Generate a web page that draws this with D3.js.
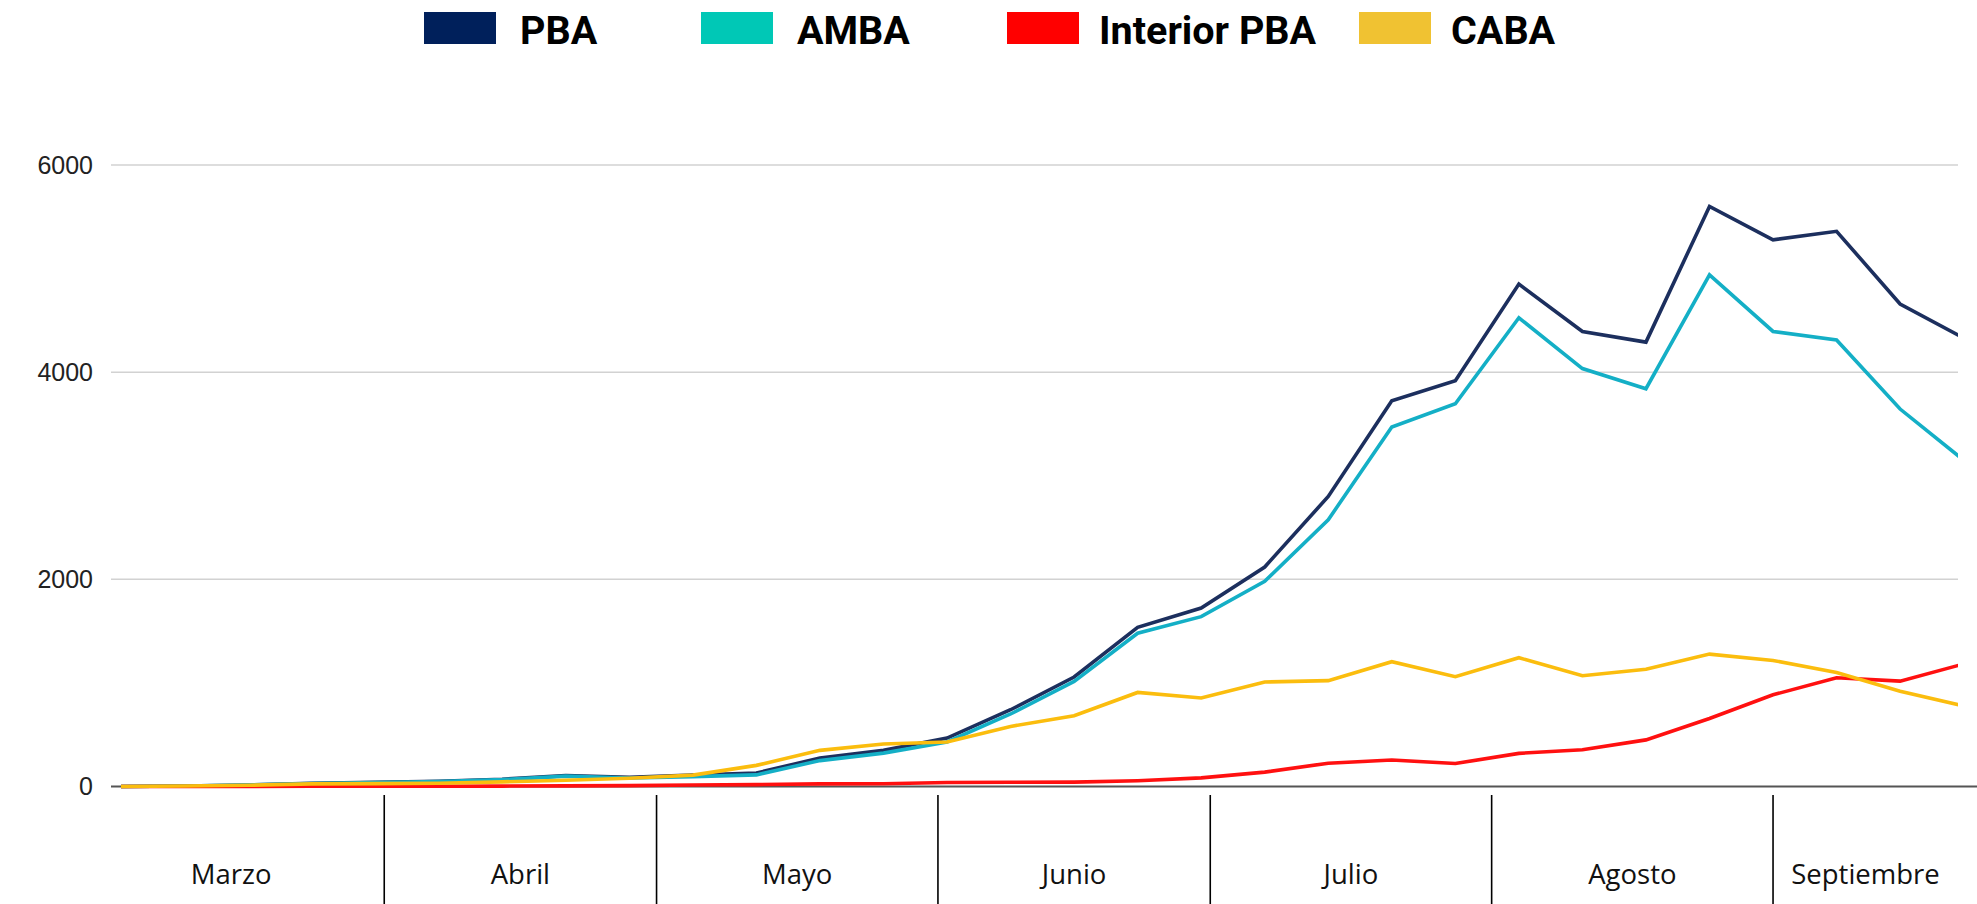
<!DOCTYPE html>
<html>
<head>
<meta charset="utf-8">
<script src="https://cdnjs.cloudflare.com/ajax/libs/d3/7.8.5/d3.min.js"></script>
<style>
    body { margin: 0; background: #fff; }
    svg { display: block; }
</style>
</head>
<body>
<script>
var width = 1977,
    height = 904;

// weekly points, first one on 3 March 2020
var firstWeek = new Date(2020, 2, 3);
var weeks = d3.range(30).map(function(i) { return d3.timeDay.offset(firstWeek, i * 7); });

var pbaValues      = [0, 5, 15, 30, 40, 50, 70, 105, 90, 110, 130, 275, 349, 468, 741, 1057, 1536, 1723, 2119, 2800, 3724, 3917, 4850, 4393, 4290, 5600, 5278, 5360, 4658, 4330];
var ambaValues     = [0, 5, 14, 28, 38, 47, 66, 100, 82, 95, 112, 250, 322, 430, 700, 1015, 1480, 1640, 1980, 2575, 3470, 3695, 4525, 4035, 3840, 4940, 4393, 4310, 3644, 3150];
var interiorValues = [0, 0, 1, 2, 2, 3, 4, 6, 8, 15, 18, 25, 27, 38, 41, 42, 56, 83, 139, 225, 256, 222, 320, 355, 450, 657, 885, 1050, 1017, 1183];
var cabaValues     = [0, 5, 12, 25, 28, 32, 45, 60, 80, 110, 204, 349, 410, 430, 580, 683, 908, 854, 1009, 1022, 1205, 1060, 1243, 1070, 1132, 1278, 1217, 1100, 920, 778];

var seriesNames  = ["PBA", "AMBA", "Interior PBA", "CABA"];
var lineColors   = ["#1c2f5e", "#14afc6", "#ff1010", "#fbbd0e"];
var legendColors = ["#00205b", "#00c8b6", "#ff0000", "#f0c232"];

var yTicks = [0, 2000, 4000, 6000];
var monthNames = ["Marzo", "Abril", "Mayo", "Junio", "Julio", "Agosto", "Septiembre"];

// layout
var plotLeft = 111,
    plotRight = 1958,
    monthLabelLeft = 78;
var legendSlots = [424, 701, 1007, 1359];

var xRange = d3.scaleTime()
    .domain([weeks[0], weeks[weeks.length - 1]])
    .range([121, 121 + 29 * 63.54]);

var yRange = d3.scaleLinear()
    .domain([0, 6000])
    .range([786.5, 165]);

var svg = d3.select("body").append("svg")
    .attr("width", width)
    .attr("height", height);

svg.append("defs").append("clipPath")
    .attr("id", "plot-clip")
    .append("rect")
    .attr("x", plotLeft)
    .attr("y", 0)
    .attr("width", plotRight - plotLeft)
    .attr("height", height);

// legend
var gLegend = svg.append("g");
seriesNames.forEach(function(name, i) {
    var x0 = legendSlots[i];
    gLegend.append("rect")
        .attr("x", x0)
        .attr("y", 12)
        .attr("width", 72)
        .attr("height", 32)
        .attr("fill", legendColors[i]);
    gLegend.append("text")
        .attr("x", x0 + (i < 2 ? 96 : 92))
        .attr("y", 44)
        .attr("font-family", "Roboto, sans-serif")
        .attr("font-weight", "bold")
        .attr("font-size", 39.5)
        .attr("fill", "#000")
        .text(name);
});
// end legend

// grid + y labels
var gGrid = svg.append("g");
gGrid.selectAll("line")
    .data(yTicks.filter(function(d) { return d > 0; }))
    .enter().append("line")
    .attr("x1", plotLeft)
    .attr("x2", plotRight)
    .attr("y1", function(d) { return yRange(d); })
    .attr("y2", function(d) { return yRange(d); })
    .attr("stroke", "#d2d2d2")
    .attr("stroke-width", 1.5);

gGrid.selectAll("text")
    .data(yTicks)
    .enter().append("text")
    .attr("x", 93)
    .attr("y", function(d) { return yRange(d); })
    .attr("dy", "0.35em")
    .attr("text-anchor", "end")
    .attr("font-family", "'Liberation Sans', Arial, sans-serif")
    .attr("font-size", 25)
    .attr("fill", "#222")
    .text(function(d) { return d; });

svg.append("line")
    .attr("x1", plotLeft)
    .attr("x2", width)
    .attr("y1", yRange(0))
    .attr("y2", yRange(0))
    .attr("stroke", "#555")
    .attr("stroke-width", 2);
// end grid

// lines
var line = d3.line()
    .x(function(d, i) { return xRange(weeks[i]); })
    .y(function(d) { return yRange(d); });

var gLines = svg.append("g").attr("clip-path", "url(#plot-clip)");
[pbaValues, ambaValues, interiorValues, cabaValues].forEach(function(values, i) {
    gLines.append("path")
        .datum(values)
        .attr("d", line)
        .attr("fill", "none")
        .attr("stroke", lineColors[i])
        .attr("stroke-width", 3.6)
        .attr("stroke-linejoin", "miter");
});
// end lines

// month axis
var monthStarts = d3.timeMonth.range(new Date(2020, 2, 1), new Date(2020, 9, 1));
var gMonths = svg.append("g");

gMonths.selectAll("line")
    .data(monthStarts.slice(1))
    .enter().append("line")
    .attr("x1", function(d) { return xRange(d); })
    .attr("x2", function(d) { return xRange(d); })
    .attr("y1", 795)
    .attr("y2", height)
    .attr("stroke", "#000")
    .attr("stroke-width", 1.6);

gMonths.selectAll("text")
    .data(monthStarts)
    .enter().append("text")
    .attr("x", function(d, i) {
        var a = i === 0 ? monthLabelLeft : xRange(d),
            b = Math.min(xRange(d3.timeMonth.offset(d, 1)), plotRight);
        return (a + b) / 2;
    })
    .attr("y", 884)
    .attr("text-anchor", "middle")
    .attr("font-family", "'Open Sans', sans-serif")
    .attr("font-size", 27.5)
    .attr("fill", "#111")
    .text(function(d, i) { return monthNames[i]; });
// end month axis
</script>
</body>
</html>
